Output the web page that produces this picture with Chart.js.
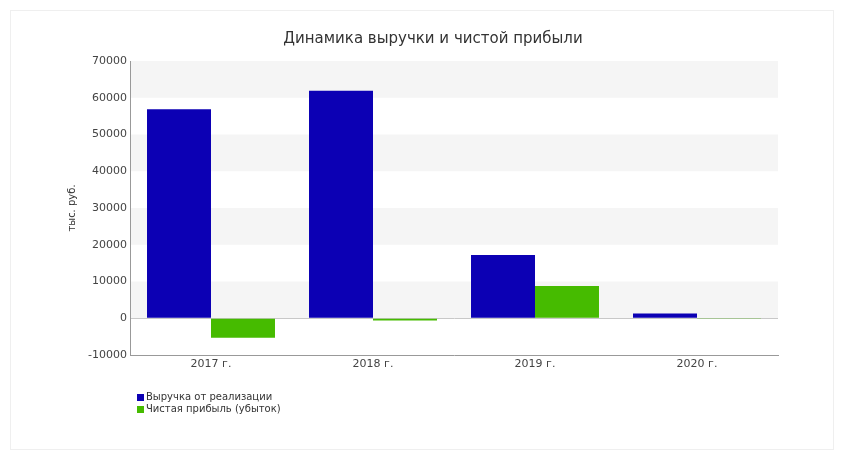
<!DOCTYPE html>
<html lang="ru">
<head>
<meta charset="utf-8">
<script src="https://cdn.jsdelivr.net/npm/chart.js@4"></script>
<style>
  html, body { margin: 0; padding: 0; background: #fff; }
  #wrap { position: relative; width: 842px; height: 459px; font-family: "DejaVu Sans", sans-serif; }
  #card { position: absolute; left: 10px; top: 10px; width: 824px; height: 440px; border: 1px solid #efefef; box-sizing: border-box; }
  #title { position: absolute; left: 0; top: 29px; width: 866px; text-align: center; font-size: 15px; color: #333; }
  #legend { position: absolute; left: 137px; top: 391px; font-size: 10px; color: #333; line-height: 12px; }
  #legend div { display: flex; align-items: center; }
  #legend span.box { display: inline-block; width: 7px; height: 7px; margin-right: 2px; }
  canvas { position: absolute; left: 0; top: 0; }
</style>
</head>
<body>
<div id="wrap">
  <div id="card"></div>
  <canvas id="chart" width="842" height="459"></canvas>
  <div id="title">Динамика выручки и чистой прибыли</div>
  <div id="legend"></div>
</div>
<script>
const categories = ['2017 г.', '2018 г.', '2019 г.', '2020 г.'];
const revenue = [56900, 61900, 17200, 1300];   // Выручка от реализации
const netProfit = [-5300, -600, 8800, -200];   // Чистая прибыль (убыток)
const yTicks = [-10000, 0, 10000, 20000, 30000, 40000, 50000, 60000, 70000];

const BLUE = '#0c00b4';
const GREEN = '#46bb00';

// серые полосы через одну, начиная с 0
const bandsPlugin = {
  id: 'bands',
  beforeDraw(chart) {
    const { ctx, chartArea, scales } = chart;
    const y = scales.y;
    ctx.save();
    ctx.fillStyle = '#f5f5f5';
    for (let v = 0; v < yTicks[yTicks.length - 1]; v += 20000) {
      const top = y.getPixelForValue(v + 10000);
      const bottom = y.getPixelForValue(v);
      ctx.fillRect(chartArea.left, top, chartArea.right - chartArea.left, bottom - top);
    }
    ctx.restore();
  }
};

const datasets = [
  { label: 'Выручка от реализации', data: revenue, backgroundColor: BLUE },
  { label: 'Чистая прибыль (убыток)', data: netProfit, backgroundColor: GREEN }
];

const chart = new Chart(document.getElementById('chart'), {
  type: 'bar',
  data: { labels: categories, datasets },
  plugins: [bandsPlugin],
  options: {
    responsive: false,
    animation: false,
    layout: { padding: { left: 0, right: 64, top: 61, bottom: 82 } },
    datasets: { bar: { categoryPercentage: 0.79, barPercentage: 1.0 } },
    plugins: {
      legend: { display: false },
      tooltip: { enabled: false }
    },
    scales: {
      x: {
        grid: { display: false, drawTicks: false },
        border: { display: true, color: '#999' },
        ticks: { color: '#444', font: { family: 'DejaVu Sans', size: 11 }, padding: 3 },
        afterFit: s => { s.height = 22; }
      },
      y: {
        min: -10000,
        max: 70000,
        afterBuildTicks: s => { s.ticks = yTicks.map(v => ({ value: v })); },
        grid: {
          drawTicks: false,
          color: c => (c.tick && c.tick.value === 0 ? '#c8c8c8' : 'rgba(0,0,0,0)')
        },
        border: { display: true, color: '#999' },
        ticks: {
          color: '#444',
          font: { family: 'DejaVu Sans', size: 11 },
          padding: 3,
          callback: v => String(v)
        },
        title: {
          display: true,
          text: 'тыс. руб.',
          color: '#333',
          font: { family: 'DejaVu Sans', size: 10 },
          padding: { top: 66, bottom: 0 }
        },
        afterFit: s => { s.width = 130; }
      }
    }
  }
});

// легенда списком под графиком
document.getElementById('legend').innerHTML = datasets.map(d =>
  `<div><span class="box" style="background:${d.backgroundColor}"></span>${d.label}</div>`
).join('');
</script>
</body>
</html>
